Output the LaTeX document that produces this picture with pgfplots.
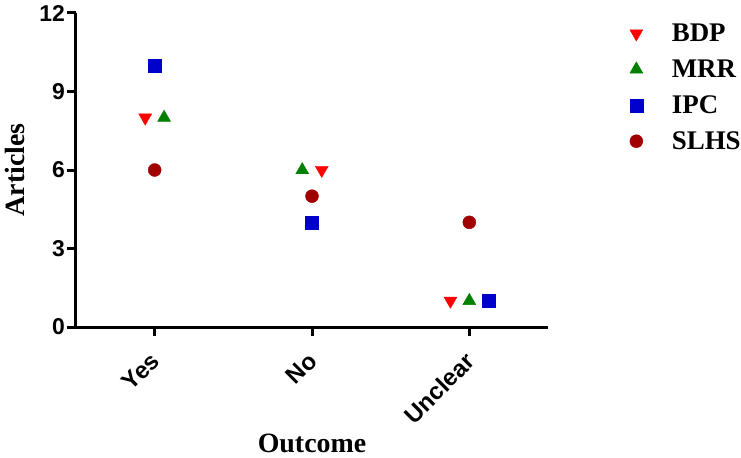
\documentclass[border=0pt]{standalone}
\usepackage{pgfplots}
\pgfplotsset{compat=1.18}
\usepackage{fontspec}
\setmainfont{Liberation Serif}
\newfontfamily\arial{Liberation Sans}
\definecolor{cbdp}{RGB}{255,0,0}
\definecolor{cmrr}{RGB}{0,128,0}
\definecolor{cipc}{RGB}{0,0,204}
\definecolor{cslhs}{RGB}{160,0,0}
\begin{document}
\begin{tikzpicture}
\path[use as bounding box] (-76bp,-131bp) rectangle (665bp,327bp);
\begin{axis}[
  at={(0,0)}, anchor=south west,
  scale only axis, width=472bp, height=314bp,
  xmin=-0.5, xmax=2.5, ymin=0, ymax=12,
  axis lines=left, axis line style={-, line width=3bp},
  ytick={0,3,6,9,12}, xtick={0,1,2}, xticklabels={Yes,No,Unclear},
  tick align=outside, major tick length=9bp,
  tick style={line width=3bp, black},
  /pgf/number format/assume math mode=true,
  yticklabel style={font=\arial\bfseries\fontsize{23}{23}\selectfont, inner sep=2bp},
  xticklabel style={font=\arial\bfseries\fontsize{24}{24}\selectfont, rotate=45, anchor=north east, inner sep=3bp, xshift=-11.2bp, yshift=-3.8bp},
  ylabel={Articles}, xlabel={Outcome},
  label style={font=\bfseries\fontsize{28}{28}\selectfont},
  ylabel style={at={(axis description cs:-0.129,0.5)}, anchor=center, rotate=0},
  xlabel style={at={(axis description cs:0.5,-0.372)}, anchor=center},
  clip=false,
  legend style={at={(axis description cs:1.173,0.972)}, anchor=north west, draw=none, fill=none,
    font=\bfseries\fontsize{27}{27}\selectfont, row sep=12.7bp, column sep=27bp, inner sep=0pt},
  legend cell align=left,
]
\addplot[only marks, mark=triangle*, mark size=7.5bp, color=cbdp, mark options={rotate=180, fill=cbdp, draw=cbdp}]
  coordinates {(-0.06,8) (1.062,6) (1.88,1)};
\addlegendentry{BDP}
\addplot[only marks, mark=triangle*, mark size=7.5bp, color=cmrr, mark options={fill=cmrr, draw=cmrr}]
  coordinates {(0.06,8) (0.938,6) (2,1)};
\addlegendentry{MRR}
\addplot[only marks, mark=square*, mark size=6.5bp, color=cipc, mark options={fill=cipc, draw=cipc}]
  coordinates {(0,10) (1,4) (2.12,1)};
\addlegendentry{IPC}
\addplot[only marks, mark=*, mark size=6.5bp, color=cslhs, mark options={fill=cslhs, draw=cslhs}]
  coordinates {(0,6) (1,5) (2,4)};
\addlegendentry{SLHS}
\end{axis}
\end{tikzpicture}
\end{document}
